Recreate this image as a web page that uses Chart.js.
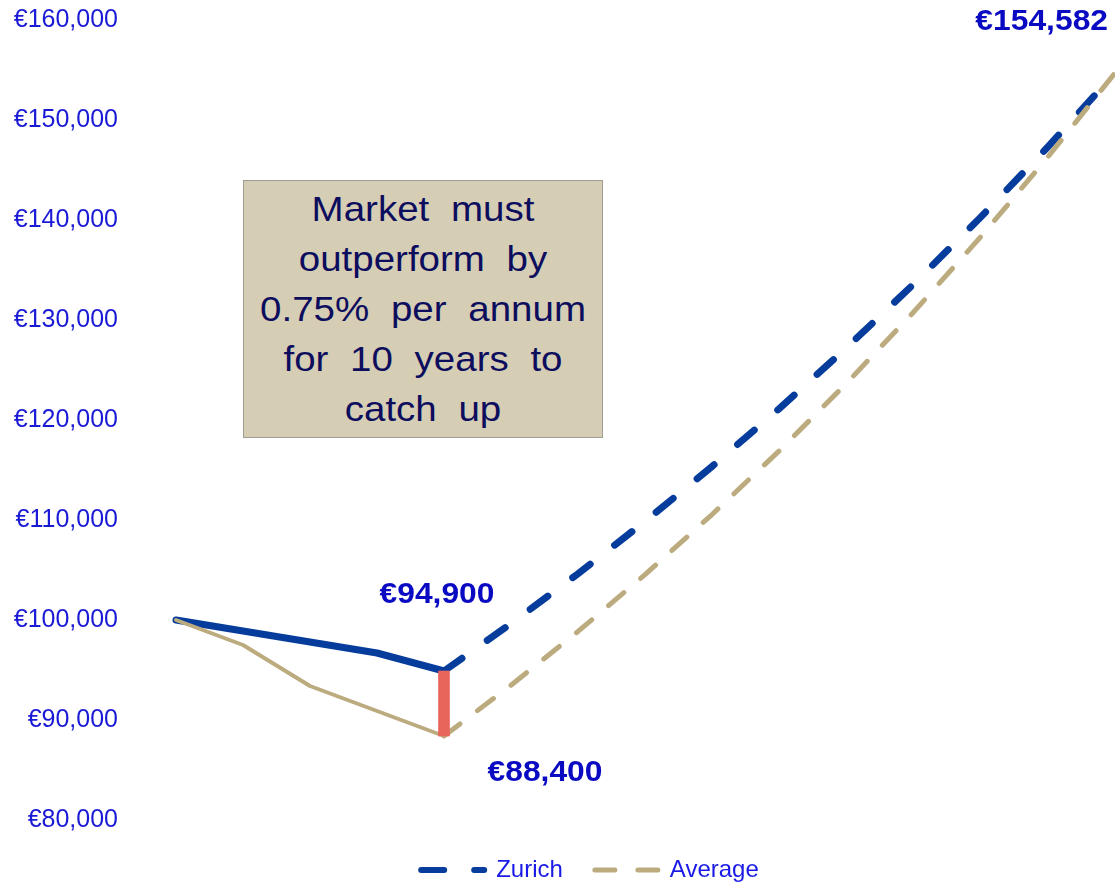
<!DOCTYPE html>
<html>
<head>
<meta charset="utf-8">
<title>Zurich vs Average</title>
<script src="https://cdn.jsdelivr.net/npm/chart.js@4/dist/chart.umd.min.js"></script>
<style>
    body { margin: 0; background: #fff; }
    #wrap { position: relative; width: 1115px; height: 884px; }
    #note {
        position: absolute;
        left: 243px; top: 180px;
        width: 358px; height: 256px;
        background: #d6cdb5;
        border: 1px solid #a09c94;
    }
    #note div {
        width: 320px;
        margin: 0 auto;
        padding-top: 3px;
        transform: scaleX(1.1);
        transform-origin: center top;
        color: #0d0d5e;
        font-family: 'Liberation Sans', Arial, sans-serif;
        font-size: 35px;
        line-height: 50px;
        word-spacing: 10px;
        text-align: center;
    }
</style>
</head>
<body>
<div id="wrap">
    <canvas id="myChart"></canvas>
    <div id="note"><div>Market must<br>outperform by<br>0.75% per annum<br>for 10 years to<br>catch up</div></div>
</div>
<script>
// years 0..4 are actual, 5..14 projected
var periods = ['0', '1', '2', '3', '4', '5', '6', '7', '8', '9', '10', '11', '12', '13', '14'];
var zurich = [100000, 98900, 97800, 96700, 94900, 99645, 104627, 109859, 115352, 121119, 127175, 133534, 140211, 147221, 154582];
var average = [100000, 97500, 93400, 90900, 88400, 93481, 98854, 104536, 110545, 116899, 123619, 130725, 138239, 146186, 154582];
var yTicks = [80000, 90000, 100000, 110000, 120000, 130000, 140000, 150000, 160000];
var lastActual = 4;

var FONT = "'Liberation Sans', Arial, sans-serif";
var BLUE = '#063c9c';
var TAN = '#bcab7e';

function euro(v) {
    return '\u20ac' + v.toLocaleString('en-US');
}

// gap between the two series in the last actual year
var gapBar = periods.map(function (p, i) {
    return i === lastActual ? [average[i], zurich[i]] : null;
});

function stretchedText(ctx, text, x, y) {
    ctx.save();
    ctx.translate(x, y);
    ctx.scale(1.06, 1);
    ctx.fillText(text, 0, 0);
    ctx.restore();
}

// value labels next to points
var valueLabels = {
    id: 'valueLabels',
    afterDatasetsDraw: function (chart) {
        var ctx = chart.ctx;
        var z = chart.getDatasetMeta(1).data;
        var a = chart.getDatasetMeta(2).data;
        var last = periods.length - 1;
        ctx.save();
        ctx.font = 'bold 30px ' + FONT;
        ctx.fillStyle = '#0a0ac2';
        ctx.textBaseline = 'middle';
        ctx.textAlign = 'center';
        stretchedText(ctx, euro(zurich[lastActual]), z[lastActual].x - 7, z[lastActual].y - 76);
        stretchedText(ctx, euro(average[lastActual]), a[lastActual].x + 101, a[lastActual].y + 37);
        ctx.textAlign = 'right';
        stretchedText(ctx, euro(zurich[last]), z[last].x - 6, z[last].y - 52);
        ctx.restore();
    }
};

// nudge the legend to the right of centre
var legendShift = {
    id: 'legendShift',
    afterLayout: function (chart) {
        chart.legend.left += 33;
        chart.legend.right += 33;
    }
};

var legendDash = {
    Zurich: { dash: [23, 30], width: 6 },
    Average: { dash: [20, 23], width: 5 }
};

const data = {
    labels: periods,
    datasets: [{
        type: 'bar',
        label: 'gap',
        data: gapBar,
        backgroundColor: '#e8655c',
        barThickness: 11,
        order: 0
    }, {
        label: 'Zurich',
        data: zurich,
        borderColor: BLUE,
        backgroundColor: BLUE,
        borderWidth: 7,
        borderCapStyle: 'round',
        borderJoinStyle: 'round',
        pointRadius: 0,
        clip: false,
        order: 2,
        segment: {
            borderDash: function (ctx) { return ctx.p0DataIndex >= lastActual ? [22, 31] : []; }
        }
    }, {
        label: 'Average',
        data: average,
        borderColor: TAN,
        backgroundColor: TAN,
        borderWidth: 4,
        borderCapStyle: 'round',
        borderJoinStyle: 'round',
        pointRadius: 0,
        clip: false,
        order: 1,
        segment: {
            borderDash: function (ctx) { return ctx.p0DataIndex >= lastActual ? [20, 22] : []; },
            borderWidth: function (ctx) { return ctx.p0DataIndex >= lastActual ? 5 : 4; }
        }
    }]
};

const config = {
    type: 'line',
    data: data,
    options: {
        responsive: true,
        maintainAspectRatio: false,
        animation: false,
        layout: { padding: { top: 20, right: 1, left: 0, bottom: 2 } },
        scales: {
            x: {
                type: 'category',
                offset: false,
                grid: { display: false, drawTicks: false },
                border: { display: false },
                ticks: { display: false, padding: 0 },
                afterFit: function (scale) { scale.height = 6; }
            },
            y: {
                min: 80000,
                max: 160000,
                // tick marks stay hidden, their length only spaces the labels
                grid: { display: false, drawTicks: true, tickLength: 58 },
                border: { display: false },
                afterBuildTicks: function (scale) {
                    scale.ticks = yTicks.map(function (v) { return { value: v }; });
                },
                afterFit: function (scale) { scale.width = 176; },
                ticks: {
                    padding: 0,
                    color: '#1a1ad6',
                    font: { family: FONT, size: 25 },
                    callback: function (v) { return euro(v); }
                }
            }
        },
        plugins: {
            tooltip: { enabled: false },
            legend: {
                position: 'bottom',
                maxHeight: 56,
                labels: {
                    usePointStyle: true,
                    pointStyle: 'line',
                    pointStyleWidth: 63,
                    padding: 32,
                    color: '#1a1ae6',
                    font: { family: FONT, size: 24 },
                    filter: function (item) { return item.text !== 'gap'; },
                    sort: function (a, b) { return a.datasetIndex - b.datasetIndex; },
                    generateLabels: function (chart) {
                        var items = Chart.defaults.plugins.legend.labels.generateLabels(chart);
                        items.forEach(function (item) {
                            var d = legendDash[item.text];
                            if (d) {
                                item.lineDash = d.dash;
                                item.lineWidth = d.width;
                                item.lineCap = 'round';
                            }
                        });
                        return items;
                    }
                }
            }
        }
    },
    plugins: [valueLabels, legendShift]
};

var myChart = new Chart(
    document.getElementById('myChart'),
    config
);
</script>
</body>
</html>
